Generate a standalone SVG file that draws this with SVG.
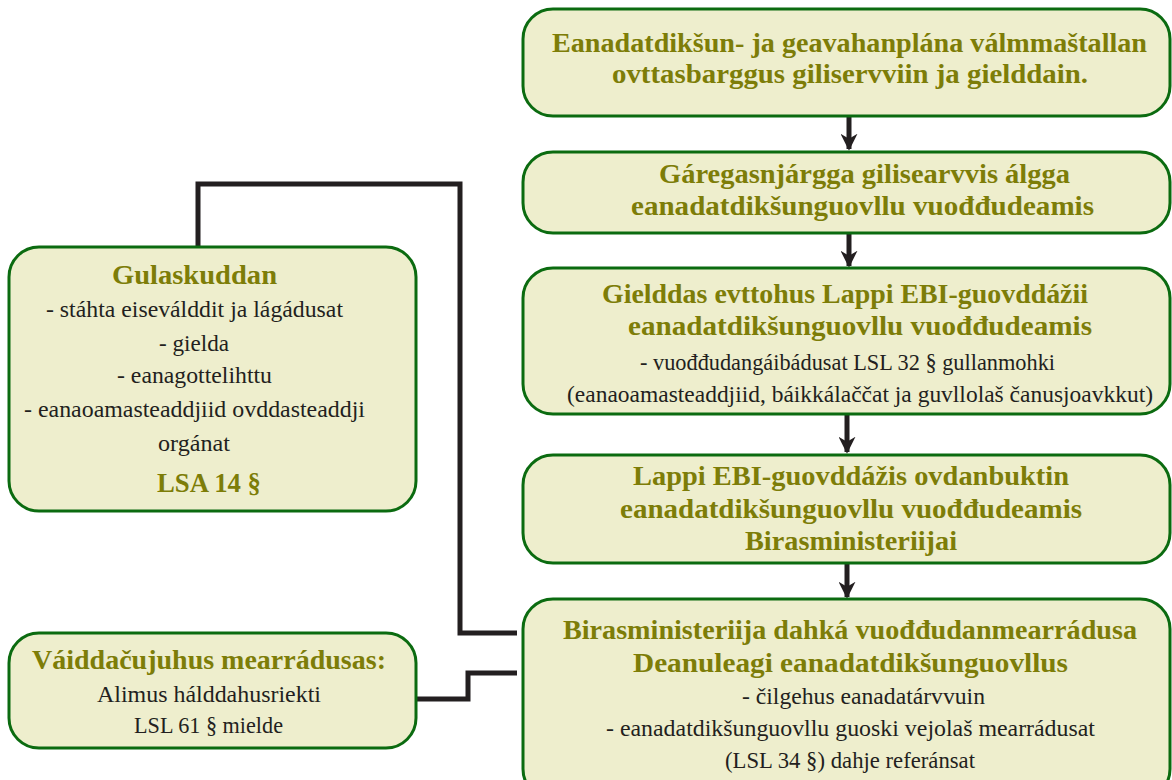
<svg xmlns="http://www.w3.org/2000/svg" width="1172" height="780" viewBox="0 0 1172 780">
<style>
.box{fill:#eeeecd;stroke:#0b6b10;stroke-width:3}
.t{font-family:"Liberation Serif",serif;font-weight:bold;font-size:28px;fill:#7d7d08;text-anchor:middle}
.b{font-family:"Liberation Serif",serif;font-size:22.5px;fill:#231f20;text-anchor:middle}
.c{fill:none;stroke:#231f20;stroke-width:5}
</style>
<defs>
<marker id="ah" viewBox="0 0 10 10" refX="9" refY="5" markerWidth="3.4" markerHeight="3.4" orient="auto" markerUnits="strokeWidth">
<path d="M0,0 L10,5 L0,10 L3,5 Z" fill="#231f20"/>
</marker>
</defs>
<rect width="1172" height="780" fill="#ffffff"/>
<g id="connectors">
<path class="c" d="M849,116 V149" marker-end="url(#ah)"/>
<path class="c" d="M849,233 V266" marker-end="url(#ah)"/>
<path class="c" d="M847,414 V452" marker-end="url(#ah)"/>
<path class="c" d="M847,563 V597" marker-end="url(#ah)"/>
<path class="c" d="M198,247 V184 H460 V633 H517"/>
<path class="c" d="M416,699 H468 V673 H517"/>
</g>
<g id="n1">
<rect class="box" x="523" y="9" width="647" height="107" rx="30"/>
<text class="t" x="849.5" y="52" textLength="595" lengthAdjust="spacingAndGlyphs">Eanadatdikšun- ja geavahanplána válmmaštallan</text>
<text class="t" x="850" y="83" textLength="476" lengthAdjust="spacingAndGlyphs">ovttasbarggus giliservviin ja gielddain.</text>
</g>
<g id="n2">
<rect class="box" x="523" y="152" width="647" height="81" rx="30"/>
<text class="t" x="864.5" y="183" textLength="411" lengthAdjust="spacingAndGlyphs">Gáregasnjárgga gilisearvvis álgga</text>
<text class="t" x="862.5" y="215" textLength="463" lengthAdjust="spacingAndGlyphs">eanadatdikšunguovllu vuođđudeamis</text>
</g>
<g id="n3">
<rect class="box" x="523" y="268" width="647" height="146" rx="30"/>
<text class="t" x="845" y="303" textLength="486" lengthAdjust="spacingAndGlyphs">Gielddas evttohus Lappi EBI-guovddážii</text>
<text class="t" x="860" y="335" textLength="464" lengthAdjust="spacingAndGlyphs">eanadatdikšunguovllu vuođđudeamis</text>
<text class="b" x="847.5" y="370" textLength="415" lengthAdjust="spacingAndGlyphs">- vuođđudangáibádusat LSL 32 § gullanmohki</text>
<text class="b" x="860" y="402" textLength="586" lengthAdjust="spacingAndGlyphs">(eanaoamasteaddjiid, báikkálaččat ja guvllolaš čanusjoavkkut)</text>
</g>
<g id="n4">
<rect class="box" x="523" y="455" width="647" height="108" rx="30"/>
<text class="t" x="851" y="485" textLength="436" lengthAdjust="spacingAndGlyphs">Lappi EBI-guovddážis ovdanbuktin</text>
<text class="t" x="851" y="518" textLength="462" lengthAdjust="spacingAndGlyphs">eanadatdikšunguovllu vuođđudeamis</text>
<text class="t" x="851" y="550" textLength="212" lengthAdjust="spacingAndGlyphs">Birasministeriijai</text>
</g>
<g id="n5">
<rect class="box" x="523" y="599" width="647" height="200" rx="30"/>
<text class="t" x="850" y="639" textLength="574" lengthAdjust="spacingAndGlyphs">Birasministeriija dahká vuođđudanmearrádusa</text>
<text class="t" x="850.5" y="672" textLength="435" lengthAdjust="spacingAndGlyphs">Deanuleagi eanadatdikšunguovllus</text>
<text class="b" x="863.5" y="704" textLength="243" lengthAdjust="spacingAndGlyphs">- čilgehus eanadatárvvuin</text>
<text class="b" x="850.5" y="736" textLength="489" lengthAdjust="spacingAndGlyphs">- eanadatdikšunguovllu guoski vejolaš mearrádusat</text>
<text class="b" x="850" y="768" textLength="250" lengthAdjust="spacingAndGlyphs">(LSL 34 §) dahje referánsat</text>
</g>
<g id="n6">
<rect class="box" x="9" y="247" width="407" height="264" rx="30"/>
<text class="t" x="194.5" y="284" textLength="165" lengthAdjust="spacingAndGlyphs">Gulaskuddan</text>
<text class="b" x="194.5" y="317" textLength="297" lengthAdjust="spacingAndGlyphs">- stáhta eiseválddit ja lágádusat</text>
<text class="b" x="194" y="351" textLength="70" lengthAdjust="spacingAndGlyphs">- gielda</text>
<text class="b" x="194.5" y="383" textLength="155" lengthAdjust="spacingAndGlyphs">- eanagottelihttu</text>
<text class="b" x="194.5" y="417" textLength="341" lengthAdjust="spacingAndGlyphs">- eanaoamasteaddjiid ovddasteaddji</text>
<text class="b" x="194" y="451" textLength="72" lengthAdjust="spacingAndGlyphs">orgánat</text>
<text class="t" x="209" y="492" textLength="104" lengthAdjust="spacingAndGlyphs">LSA 14 §</text>
</g>
<g id="n7">
<rect class="box" x="9" y="633" width="407" height="115" rx="30"/>
<text class="t" x="209" y="669" textLength="354" lengthAdjust="spacingAndGlyphs">Váiddačujuhus mearrádusas:</text>
<text class="b" x="209" y="702" textLength="224" lengthAdjust="spacingAndGlyphs">Alimus hálddahusriekti</text>
<text class="b" x="208.5" y="733" textLength="149" lengthAdjust="spacingAndGlyphs">LSL 61 § mielde</text>
</g>
</svg>
